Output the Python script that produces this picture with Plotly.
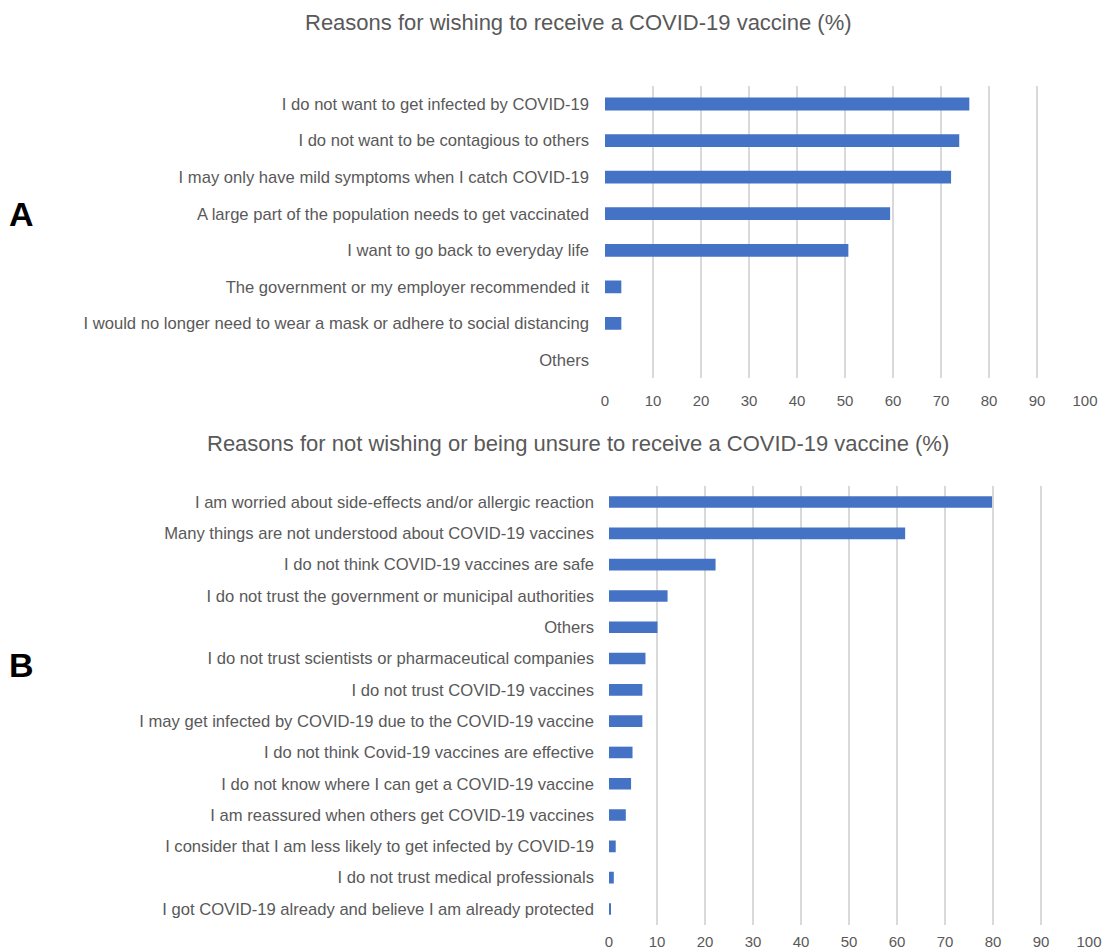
import plotly.graph_objects as go

W, H = 1102, 951

reasons_yes = [
    "I do not want to get infected by COVID-19",
    "I do not want to be contagious to others",
    "I may only have mild symptoms when I catch COVID-19",
    "A large part of the population needs to get vaccinated",
    "I want to go back to everyday life",
    "The government or my employer recommended it",
    "I would no longer need to wear a mask or adhere to social distancing",
    "Others",
]
values_yes = [75.9, 73.8, 72.1, 59.4, 50.7, 3.4, 3.4, 0]

reasons_no = [
    "I am worried about side-effects and/or allergic reaction",
    "Many things are not understood about COVID-19 vaccines",
    "I do not think COVID-19 vaccines are safe",
    "I do not trust the government or municipal authorities",
    "Others",
    "I do not trust scientists or pharmaceutical companies",
    "I do not trust COVID-19 vaccines",
    "I may get infected by COVID-19 due to the COVID-19 vaccine",
    "I do not think Covid-19 vaccines are effective",
    "I do not know where I can get a COVID-19 vaccine",
    "I am reassured when others get COVID-19 vaccines",
    "I consider that I am less likely to get infected by COVID-19",
    "I do not trust medical professionals",
    "I got COVID-19 already and believe I am already protected",
]
values_no = [79.8, 61.7, 22.2, 12.2, 10.1, 7.6, 6.95, 6.95, 4.9, 4.6, 3.5, 1.4, 1.0, 0.35]

x_ticks = [0, 10, 20, 30, 40, 50, 60, 70, 80, 90, 100]

BLUE = "#4472C4"
GREY = "#595959"
FONT = "Liberation Sans, Arial, sans-serif"

fig = go.Figure()
fig.add_trace(go.Bar(x=values_yes, y=reasons_yes, orientation="h", marker=dict(color=BLUE, line=dict(width=0)),
                     width=0.35, xaxis="x", yaxis="y", showlegend=False))
fig.add_trace(go.Bar(x=values_no, y=reasons_no, orientation="h", marker=dict(color=BLUE, line=dict(width=0)),
                     width=0.37, xaxis="x2", yaxis="y2", showlegend=False))

def py(p):
    return (H - p) / H

def px(p):
    return p / W

axis_common = dict(range=[0, 100], tickvals=x_ticks, showgrid=True, gridcolor="#d9d9d9", gridwidth=1.5,
                   zeroline=False, showline=False, ticks="", automargin=False,
                   tickfont=dict(family=FONT, size=15, color=GREY))

ytick_font = dict(family=FONT, size=16.6, color=GREY)

fig.update_layout(
    template="none",
    width=W, height=H,
    margin=dict(l=0, r=0, t=0, b=0, pad=0),
    paper_bgcolor="white", plot_bgcolor="white",
    font=dict(family=FONT, color=GREY),
    xaxis=dict(domain=[px(605), px(1085)], anchor="y", ticklabelstandoff=12, **axis_common),
    yaxis=dict(domain=[py(378.3), py(85.7)], anchor="x", type="category", categoryorder="array",
               categoryarray=reasons_yes, range=[len(reasons_yes) - 0.5, -0.5], showgrid=False,
               zeroline=False, showline=False, automargin=False,
               ticks="", ticklabelstandoff=15, tickfont=ytick_font),
    xaxis2=dict(domain=[px(609), px(1089)], anchor="y2", ticklabelstandoff=6, **axis_common),
    yaxis2=dict(domain=[py(924.6), py(486.4)], anchor="x2", type="category", categoryorder="array",
                categoryarray=reasons_no, range=[len(reasons_no) - 0.5, -0.5], showgrid=False,
                zeroline=False, showline=False, automargin=False,
                ticks="", ticklabelstandoff=14, tickfont=ytick_font),
    bargap=0.6,
)

annotations = [
    dict(text="Reasons for wishing to receive a COVID-19 vaccine (%)", x=px(578), y=py(23),
         font=dict(family=FONT, size=22, color=GREY)),
    dict(text="Reasons for not wishing or being unsure to receive a COVID-19 vaccine (%)", x=px(578), y=py(443),
         font=dict(family=FONT, size=22, color=GREY)),
    dict(text="<b>A</b>", x=px(21.5), y=py(214), font=dict(family=FONT, size=34, color="black")),
    dict(text="<b>B</b>", x=px(21.5), y=py(665), font=dict(family=FONT, size=34, color="black")),
]
for a in annotations:
    fig.add_annotation(xref="paper", yref="paper", showarrow=False, xanchor="center", yanchor="middle", **a)

fig.write_html("out.html", config={"displayModeBar": False},
               post_script="document.body.style.margin='0';document.body.style.overflow='hidden';")
